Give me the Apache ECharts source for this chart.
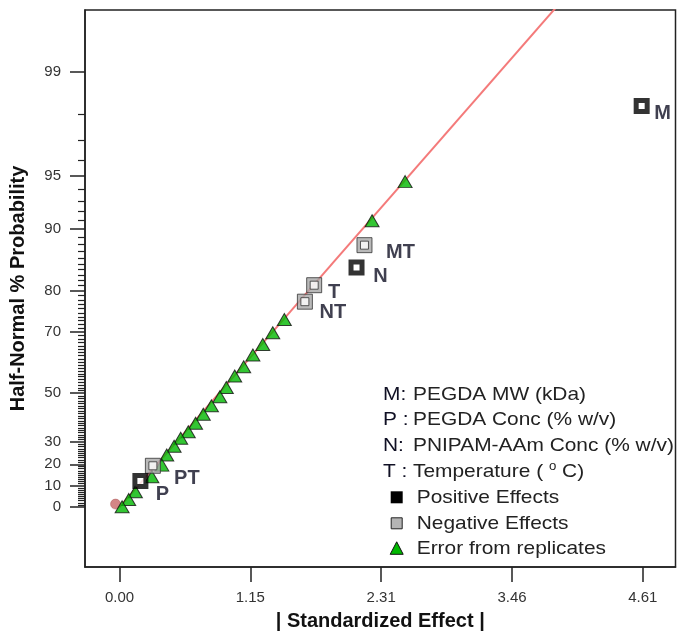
<!DOCTYPE html>
<html>
<head>
<meta charset="utf-8">
<script src="https://cdn.jsdelivr.net/npm/echarts@6/dist/echarts.min.js"></script>
<style>
html,body{margin:0;padding:0;background:#fff;}
#chart{width:684px;height:643px;}
</style>
</head>
<body>
<div id="chart"></div>
<script>
// ---------------- data ----------------
const xTickValues = [0, 1.1525, 2.305, 3.4575, 4.61];
const xTickLabels = ['0.00', '1.15', '2.31', '3.46', '4.61'];
const yTickPercents = [0, 10, 20, 30, 50, 70, 80, 90, 95, 99];
const yTickLabels = ['0', '10', '20', '30', '50', '70', '80', '90', '95', '99'];

const posNames = ['M', 'N', 'P'];
const posX = [4.60, 2.088, 0.184];
const posP = [98.24, 84.4, 12.2];

const negNames = ['MT', 'T', 'NT', 'PT'];
const negX = [2.158, 1.715, 1.633, 0.294];
const negP = [87.9, 81.1, 77.6, 19.3];

const errX = [2.516, 2.225, 1.452, 1.350, 1.262, 1.175, 1.094, 1.015, 0.941, 0.884, 0.810,
              0.738, 0.670, 0.606, 0.539, 0.481, 0.416, 0.373, 0.285, 0.140, 0.081, 0.023];
const errP = [94.6, 91.0, 73.3, 69.8, 66.4, 63.2, 59.4, 56.2, 52.1, 48.6, 45.1,
              41.7, 38.0, 34.4, 31.6, 28.1, 24.2, 19.6, 14.2, 7.2, 3.6, 0.1];

const originX = [-0.035];
const originP = [1.4];

const fitX = [0, 3.9];
const fitP = [0, 99.73];

// ---------------- half-normal probability scale ----------------
function invNorm(p) {
  const a = [-3.969683028665376e+01, 2.209460984245205e+02, -2.759285104469687e+02, 1.383577518672690e+02, -3.066479806614716e+01, 2.506628277459239e+00];
  const b = [-5.447609879822406e+01, 1.615858368580409e+02, -1.556989798598866e+02, 6.680131188771972e+01, -1.328068155288572e+01];
  const c = [-7.784894002430293e-03, -3.223964580411365e-01, -2.400758277161838e+00, -2.549732539343734e+00, 4.374664141464968e+00, 2.938163982698783e+00];
  const d = [7.784695709041462e-03, 3.224671290700398e-01, 2.445134137142996e+00, 3.754408661907416e+00];
  const pl = 0.02425, ph = 1 - pl;
  let q, r;
  if (p < pl) {
    q = Math.sqrt(-2 * Math.log(p));
    return (((((c[0]*q+c[1])*q+c[2])*q+c[3])*q+c[4])*q+c[5]) / ((((d[0]*q+d[1])*q+d[2])*q+d[3])*q+1);
  }
  if (p <= ph) {
    q = p - 0.5; r = q * q;
    return (((((a[0]*r+a[1])*r+a[2])*r+a[3])*r+a[4])*r+a[5])*q / (((((b[0]*r+b[1])*r+b[2])*r+b[3])*r+b[4])*r+1);
  }
  q = Math.sqrt(-2 * Math.log(1 - p));
  return -(((((c[0]*q+c[1])*q+c[2])*q+c[3])*q+c[4])*q+c[5]) / ((((d[0]*q+d[1])*q+d[2])*q+d[3])*q+1);
}
function hp(pct) { return pct <= 0 ? 0 : invNorm(0.5 + pct / 200); }

const Y_MIN = -0.355, Y_MAX = 2.943;
const X_MIN = -0.304, X_MAX = 4.898;

const yMajorZ = yTickPercents.map(hp);
const yMinorZ = [];
for (let i = 1; i < 99; i++) if (yTickPercents.indexOf(i) < 0) yMinorZ.push(hp(i));

const FONT = 'Liberation Sans, Arial, sans-serif';
const labelOffsets = {
  M: [21, 7], MT: [36, 7], N: [24, 9], T: [20, 7], NT: [28, 11], PT: [34, 13], P: [22, 13]
};
const labelStyle = { show: true, position: 'inside', fontFamily: FONT, fontSize: 20, fontWeight: 'bold', color: '#101024' };

function pts(xs, ps) { return xs.map((x, i) => [x, hp(ps[i])]); }
function named(names, xs, ps, withLabel) {
  return names.map((n, i) => {
    const o = { name: n, value: [xs[i], hp(ps[i])] };
    if (withLabel) o.label = Object.assign({}, labelStyle, { formatter: n, offset: labelOffsets[n] });
    return o;
  });
}

const chart = echarts.init(document.getElementById('chart'));

const legendTextStyle = { fontFamily: FONT, fontSize: 19, fill: '#222', textVerticalAlign: 'middle' };
function ltext(x, y, text, color, extra) {
  return {
    type: 'text', x: x, y: y, scaleX: 1.1, silent: true,
    style: Object.assign({}, legendTextStyle, { text: text, fill: color || '#222' }, extra || {})
  };
}

const option = {
  animation: false,
  backgroundColor: '#fff',
  grid: { left: 81, right: 8.5, top: 10, bottom: 76, show: true, borderColor: '#222', borderWidth: 1.5, containLabel: false },
  xAxis: {
    type: 'value', min: X_MIN, max: X_MAX,
    name: '| Standardized Effect |', nameLocation: 'middle', nameGap: 44,
    nameTextStyle: { fontFamily: FONT, fontSize: 20, fontWeight: 'bold', color: '#111' },
    axisLine: { show: true, onZero: false, lineStyle: { color: '#222', width: 1.5 } },
    axisTick: { show: true, inside: false, length: 15, customValues: xTickValues, lineStyle: { color: '#222', width: 1.5 } },
    axisLabel: {
      show: true, customValues: xTickValues, margin: 23, fontFamily: FONT, fontSize: 15, color: '#333',
      formatter: function (v) {
        let best = 0;
        xTickValues.forEach((t, i) => { if (Math.abs(t - v) < Math.abs(xTickValues[best] - v)) best = i; });
        return xTickLabels[best];
      }
    },
    splitLine: { show: false }
  },
  yAxis: [{
    type: 'value', min: Y_MIN, max: Y_MAX, position: 'left',
    name: 'Half-Normal % Probability', nameLocation: 'middle', nameGap: 57, nameRotate: 90,
    nameTextStyle: { fontFamily: FONT, fontSize: 20, fontWeight: 'bold', color: '#111' },
    axisLine: { show: true, onZero: false, lineStyle: { color: '#222', width: 1.5 } },
    axisTick: { show: true, inside: false, length: 15, customValues: yMajorZ, lineStyle: { color: '#222', width: 1.5 } },
    axisLabel: {
      show: true, customValues: yMajorZ, margin: 24, fontFamily: FONT, fontSize: 15, color: '#333',
      formatter: function (v) {
        let best = 0;
        yMajorZ.forEach((t, i) => { if (Math.abs(t - v) < Math.abs(yMajorZ[best] - v)) best = i; });
        return yTickLabels[best];
      }
    },
    splitLine: { show: false }
  }, {
    type: 'value', min: Y_MIN, max: Y_MAX, position: 'left',
    axisLine: { show: false, onZero: false },
    axisTick: { show: true, inside: false, length: 7, customValues: yMinorZ, lineStyle: { color: '#222', width: 1.2 } },
    axisLabel: { show: false },
    splitLine: { show: false }
  }],
  series: [
    {
      type: 'line', data: pts(fitX, fitP), symbol: 'none', clip: true, z: 1,
      lineStyle: { color: '#f47a7a', width: 2 }, silent: true
    },
    {
      type: 'scatter', data: pts(originX, originP), symbol: 'circle', symbolSize: 10, z: 2,
      itemStyle: { color: '#c86868', borderColor: '#a04848', borderWidth: 0.5 }
    },
    {
      type: 'scatter', data: pts(errX, errP), symbol: 'triangle', symbolSize: [14, 12], z: 3,
      itemStyle: { color: '#00b800', borderColor: '#111', borderWidth: 1 }
    },
    {
      type: 'scatter', data: named(negNames, negX, negP, false), symbol: 'rect', symbolSize: 15, z: 4,
      itemStyle: { color: '#a8a8a8', borderColor: '#333', borderWidth: 1 }
    },
    {
      type: 'scatter', data: named(negNames, negX, negP, true), symbol: 'rect', symbolSize: 8, z: 5,
      itemStyle: { color: '#fff', borderColor: '#333', borderWidth: 1 }
    },
    {
      type: 'scatter', data: named(posNames, posX, posP, true), symbol: 'rect', symbolSize: 11, z: 5,
      itemStyle: { color: '#fff', borderColor: '#000', borderWidth: 5 }
    }
  ],
  graphic: [
    ltext(383, 395, 'M:', '#101024'), ltext(413, 395, 'PEGDA MW (kDa)'),
    ltext(383, 420, 'P :', '#101024'), ltext(413, 420, 'PEGDA Conc (% w/v)'),
    ltext(383, 446, 'N:', '#101024'), ltext(413, 446, 'PNIPAM-AAm Conc (% w/v)'),
    ltext(383, 471.7, 'T :', '#101024'),
    ltext(413, 471.7, 'Temperature ( {sup|o} C)', '#222', {
      rich: { sup: { fontFamily: FONT, fontSize: 12, fill: '#222', verticalAlign: 'top', padding: [0, 0, 10, 0] } }
    }),
    { type: 'rect', silent: true, shape: { x: 390.7, y: 491.3, width: 12, height: 12 }, style: { fill: '#000' } },
    ltext(416.7, 497.3, 'Positive Effects'),
    { type: 'rect', silent: true, shape: { x: 391.2, y: 517.8, width: 11, height: 11 }, style: { fill: '#b4b4b4', stroke: '#222', lineWidth: 1 } },
    ltext(416.7, 523.3, 'Negative Effects'),
    { type: 'polygon', silent: true, shape: { points: [[396.7, 541.8], [403.2, 554.3], [390.2, 554.3]] }, style: { fill: '#00b800', stroke: '#111', lineWidth: 1 } },
    ltext(416.7, 548.3, 'Error from replicates')
  ]
};
chart.setOption(option);
</script>
</body>
</html>
